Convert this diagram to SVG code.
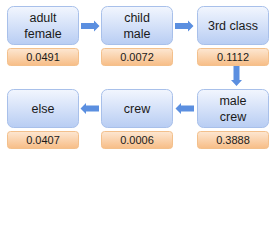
<svg xmlns="http://www.w3.org/2000/svg" width="277" height="240" viewBox="0 0 277 240">
<style>
.n{fill:url(#gb);stroke:#a8c0ea;stroke-width:1}
.v{fill:url(#go);stroke:#f3c08c;stroke-width:1}
.t{font-family:"Liberation Sans",Arial,sans-serif;font-size:12.5px;fill:#1a1a1a;text-anchor:middle}
.s{font-family:"Liberation Sans",Arial,sans-serif;font-size:11px;fill:#1a1a1a;text-anchor:middle}
.a{fill:#5b8fe0}
</style>
<defs>
<linearGradient id="gb" x1="0" y1="0" x2="0" y2="1"><stop offset="0" stop-color="#f2f6fe"/><stop offset="1" stop-color="#b8cdf3"/></linearGradient>
<linearGradient id="go" x1="0" y1="0" x2="0" y2="1"><stop offset="0" stop-color="#fde7d2"/><stop offset="1" stop-color="#f7bd86"/></linearGradient>
</defs>
<rect width="277" height="240" fill="#fff"/>
<g id="connectors">
<path class="a" d="M81 23h13v-2.5l5.5 5.5-5.5 5.5v-2.5h-13z"/>
<path class="a" d="M175 23h13v-2.5l5.5 5.5-5.5 5.5v-2.5h-13z"/>
<path class="a" d="M233.5 66v14h-2.5l5.5 6 5.5-6h-2.5v-14z"/>
<path class="a" d="M194 105.5h-13v-2.5l-5.5 5.5 5.5 5.5v-2.5h13z"/>
<path class="a" d="M99 105.5h-13v-2.5l-5.5 5.5 5.5 5.5v-2.5h13z"/>
</g>
<g id="adult-female">
<rect class="n" x="7.5" y="6.5" width="71" height="38" rx="6"/>
<text class="t" x="43" y="22">adult</text><text class="t" x="43" y="38">female</text>
<rect class="v" x="7.5" y="48.5" width="71" height="17" rx="3"/>
<text class="s" x="43" y="61">0.0491</text>
</g>
<g id="child-male">
<rect class="n" x="101.5" y="6.5" width="71" height="38" rx="6"/>
<text class="t" x="137" y="22">child</text><text class="t" x="137" y="38">male</text>
<rect class="v" x="101.5" y="48.5" width="71" height="17" rx="3"/>
<text class="s" x="137" y="61">0.0072</text>
</g>
<g id="third-class">
<rect class="n" x="197.5" y="6.5" width="71" height="38" rx="6"/>
<text class="t" x="233" y="30">3rd class</text>
<rect class="v" x="197.5" y="48.5" width="71" height="17" rx="3"/>
<text class="s" x="233" y="61">0.1112</text>
</g>
<g id="male-crew">
<rect class="n" x="197.5" y="89.5" width="71" height="38" rx="6"/>
<text class="t" x="233" y="105">male</text><text class="t" x="233" y="121">crew</text>
<rect class="v" x="197.5" y="131.5" width="71" height="17" rx="3"/>
<text class="s" x="233" y="144">0.3888</text>
</g>
<g id="crew">
<rect class="n" x="101.5" y="89.5" width="71" height="38" rx="6"/>
<text class="t" x="137" y="113">crew</text>
<rect class="v" x="101.5" y="131.5" width="71" height="17" rx="3"/>
<text class="s" x="137" y="144">0.0006</text>
</g>
<g id="else">
<rect class="n" x="7.5" y="89.5" width="71" height="38" rx="6"/>
<text class="t" x="43" y="113">else</text>
<rect class="v" x="7.5" y="131.5" width="71" height="17" rx="3"/>
<text class="s" x="43" y="144">0.0407</text>
</g>
</svg>
